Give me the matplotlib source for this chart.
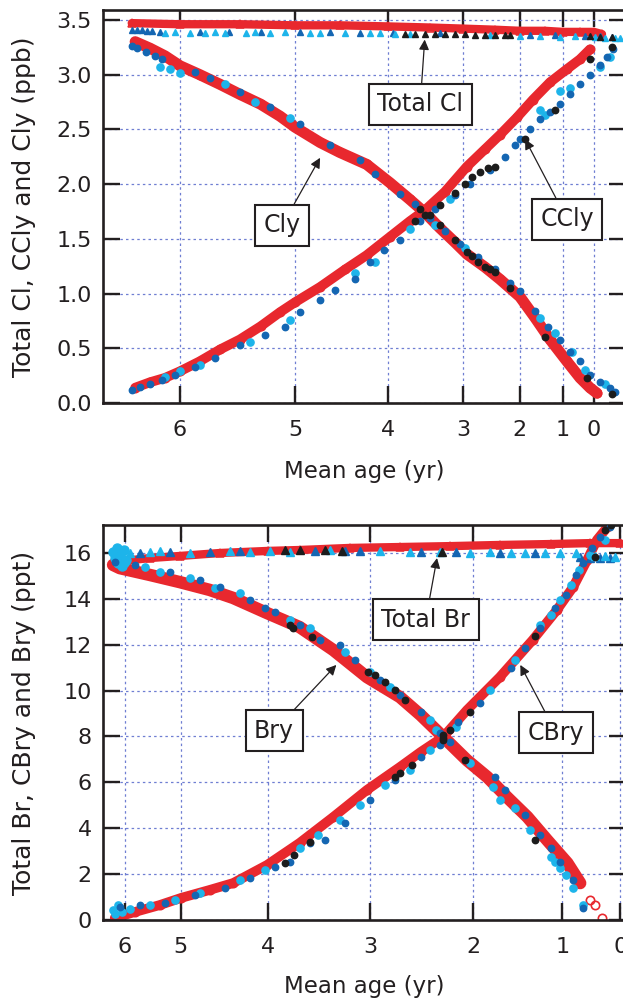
import numpy as np
import matplotlib
matplotlib.use("Agg")
import matplotlib.pyplot as plt

plt.rcParams['font.family'] = ['DejaVu Sans']

RED = '#e8282e'
DBLUE = '#1466b2'
LBLUE = '#1db4ea'
BLACK = '#1c1c1c'
INK = '#231f20'
GRID = '#6f7ed2'

# ---------------- top panel data (mean age in yr, mixing ratio in ppb) ----------------
cl_total_red_age = [6.42, 6.0, 5.48, 5.0, 4.52, 4.0, 3.44, 3.0, 2.44, 2.0, 1.42, 1.0, 0.45, 0.0, -0.27]
cl_total_red = [3.47, 3.46, 3.46, 3.45, 3.45, 3.44, 3.43, 3.42, 3.41, 3.40, 3.40, 3.39, 3.39, 3.39, 3.37]

cl_total_db_age = [6.42, 6.37, 6.33, 6.29, 6.24, 6.17, 5.83, 5.57, 5.30, 4.95, 4.62, 4.30, 3.93, 3.31, 1.77, 1.19, 0.29, -0.2, -0.6]
cl_total_db = [3.41, 3.41, 3.41, 3.40, 3.40, 3.39, 3.39, 3.39, 3.39, 3.39, 3.39, 3.38, 3.38, 3.38, 3.36, 3.36, 3.35, 3.35, 3.34]

cl_total_lb_age = [6.13, 6.04, 5.91, 5.78, 5.70, 5.61, 5.43, 5.35, 5.22, 5.09, 4.84, 4.73, 4.46, 4.19, 4.09, 3.91, 3.71,
                   2.53, 2.0, 1.53, 1.07, 0.61, -0.03, -0.37, -0.7, -0.87]
cl_total_lb = [3.38, 3.39, 3.38, 3.38, 3.39, 3.38, 3.38, 3.39, 3.38, 3.39, 3.38, 3.38, 3.38, 3.38, 3.38, 3.37, 3.37,
               3.36, 3.35, 3.35, 3.34, 3.35, 3.34, 3.33, 3.33, 3.33]

cl_total_bk_age = [3.77, 3.64, 3.51, 3.37, 3.24, 3.11, 2.96, 2.79, 2.61, 2.44, 2.26, 2.18, 0.13, -0.2, -0.6]
cl_total_bk = [3.37, 3.37, 3.37, 3.37, 3.37, 3.37, 3.37, 3.36, 3.36, 3.36, 3.36, 3.36, 3.35, 3.34, 3.34]

cly_red_age = [6.39, 6.26, 6.13, 6.0, 5.83, 5.65, 5.48, 5.30, 5.13, 5.0, 4.73, 4.52, 4.23, 3.97, 3.71, 3.51, 3.31,
               3.11, 2.93, 2.61, 2.35, 2.0, 1.65, 1.30, 0.87, 0.45, 0.13, -0.1]
cly_red = [3.30, 3.24, 3.17, 3.08, 3.00, 2.91, 2.82, 2.73, 2.62, 2.52, 2.38, 2.29, 2.18, 2.01, 1.86, 1.74, 1.60,
           1.47, 1.36, 1.24, 1.13, 0.97, 0.78, 0.58, 0.38, 0.23, 0.14, 0.09]

cly_db_age = [6.42, 6.37, 6.30, 6.22, 6.16, 5.87, 5.74, 5.48, 5.22, 4.95, 4.62, 4.30, 4.14, 3.84, 3.64, 3.44, 3.24,
              3.04, 2.74, 2.44, 2.18, 2.0, 1.65, 1.35, 1.07, 0.77, 0.45, 0.13, -0.2, -0.53, -0.7]
cly_db = [3.26, 3.24, 3.21, 3.17, 3.14, 3.02, 2.97, 2.84, 2.70, 2.55, 2.36, 2.22, 2.09, 1.91, 1.82, 1.69, 1.57,
          1.45, 1.33, 1.22, 1.10, 1.02, 0.84, 0.69, 0.58, 0.47, 0.38, 0.26, 0.19, 0.14, 0.10]

cly_lb_age = [6.17, 6.09, 6.0, 5.61, 5.35, 5.04, 3.37, 2.96, 1.53, 1.19, 0.71, 0.29, -0.37]
cly_lb = [3.07, 3.05, 3.01, 2.91, 2.75, 2.60, 1.63, 1.42, 0.78, 0.64, 0.47, 0.30, 0.17]

cly_bk_age = [3.57, 3.44, 3.31, 3.11, 2.93, 2.84, 2.74, 2.61, 2.53, 2.44, 2.18, 1.42, 0.23, -0.6]
cly_bk = [1.77, 1.72, 1.63, 1.49, 1.38, 1.34, 1.29, 1.24, 1.22, 1.20, 1.05, 0.60, 0.23, 0.08]

ccly_red_age = [6.39, 6.26, 6.13, 6.0, 5.83, 5.65, 5.48, 5.30, 5.13, 5.0, 4.73, 4.46, 4.23, 3.97, 3.71, 3.51, 3.24,
                2.93, 2.61, 2.35, 2.05, 1.70, 1.30, 0.87, 0.45, 0.13]
ccly_red = [0.14, 0.19, 0.23, 0.29, 0.38, 0.49, 0.58, 0.70, 0.83, 0.92, 1.06, 1.22, 1.35, 1.52, 1.66, 1.76, 1.93,
            2.16, 2.32, 2.45, 2.61, 2.77, 2.93, 3.05, 3.14, 3.23]

ccly_db_age = [6.42, 6.35, 6.26, 6.16, 6.04, 5.87, 5.70, 5.48, 5.26, 5.09, 4.95, 4.73, 4.57, 4.35, 4.19, 4.04, 3.84,
               3.57, 3.37, 3.11, 2.88, 2.53, 2.26, 2.09, 2.0, 1.77, 1.53, 1.30, 1.07, 0.77, 0.45, 0.13, -0.2, -0.43, -0.63]
ccly_db = [0.12, 0.15, 0.17, 0.21, 0.26, 0.33, 0.41, 0.53, 0.62, 0.69, 0.83, 0.94, 1.03, 1.13, 1.29, 1.40, 1.49,
           1.66, 1.77, 1.90, 2.00, 2.13, 2.25, 2.36, 2.41, 2.50, 2.59, 2.66, 2.73, 2.82, 2.91, 3.00, 3.09, 3.16, 3.23]

ccly_lb_age = [6.13, 6.0, 5.83, 5.39, 5.04, 4.35, 4.14, 3.71, 3.17, 1.53, 1.42, 1.07, 0.77, -0.2, -0.53]
ccly_lb = [0.24, 0.29, 0.35, 0.56, 0.76, 1.19, 1.29, 1.59, 1.86, 2.68, 2.63, 2.85, 2.88, 3.07, 3.16]

ccly_bk_age = [3.64, 3.51, 3.31, 3.11, 2.96, 2.84, 2.70, 2.56, 2.44, 1.88, 1.19, 0.13, -0.6]
ccly_bk = [1.66, 1.72, 1.81, 1.92, 2.00, 2.06, 2.11, 2.15, 2.16, 2.41, 2.68, 3.14, 3.25]

# ---------------- bottom panel data (mean age in yr, mixing ratio in ppt) ----------------
br_total_red_age = [6.18, 5.55, 5.02, 4.55, 4.0, 3.69, 3.20, 2.71, 2.22, 1.70, 1.13, 0.52, 0.0]
br_total_red = [15.61, 15.78, 15.87, 16.0, 16.09, 16.13, 16.22, 16.26, 16.30, 16.35, 16.39, 16.43, 16.43]

br_total_lb_age = [5.91, 5.55, 5.38, 4.90, 4.44, 4.21, 3.98, 3.78, 3.39, 2.90, 2.61, 2.32, 2.03, 1.81, 1.58, 1.42,
                   1.19, 1.02, 0.76, 0.43, 0.26, 0.09]
br_total_lb = [16.0, 16.04, 16.09, 16.0, 16.09, 16.04, 16.09, 16.04, 16.13, 16.09, 16.04, 16.04, 16.0, 16.04, 16.0,
               16.0, 16.0, 16.0, 16.0, 15.87, 15.87, 15.82]

br_total_db_age = [5.73, 5.20, 4.67, 4.32, 3.54, 3.25, 3.10, 2.51, 2.17, 1.70, 1.30, 0.69, 0.52, 0.34, 0.17]
br_total_db = [16.0, 16.04, 16.04, 16.09, 16.09, 16.09, 16.09, 16.04, 16.04, 16.0, 16.0, 15.82, 15.78, 15.78, 15.78]

br_total_bk_age = [3.83, 3.69, 3.44, 3.27, 2.30]
br_total_bk = [16.13, 16.13, 16.13, 16.09, 16.04]

br_start_lb_age = [6.21, 6.18, 6.14, 6.13, 6.09, 6.05, 6.02, 5.98]
br_start_lb = [16.04, 15.78, 16.22, 15.56, 15.91, 15.43, 16.13, 15.69]

bry_red_age = [6.21, 6.09, 5.55, 5.02, 4.67, 4.40, 4.01, 3.69, 3.36, 3.03, 2.71, 2.51, 2.29, 2.06, 1.84, 1.62,
               1.39, 1.17, 0.91, 0.69]
bry_red = [15.48, 15.34, 15.04, 14.73, 14.39, 14.04, 13.38, 12.77, 11.77, 10.59, 9.72, 8.94, 7.98, 6.97, 6.23, 5.36,
           4.49, 3.49, 2.48, 1.61]
bry_red_tail_age = [0.52, 0.43, 0.31]
bry_red_tail = [0.87, 0.65, 0.09]

bry_db_age = [6.18, 5.82, 5.20, 4.78, 4.55, 4.21, 4.03, 3.93, 3.69, 3.49, 3.29, 3.15, 2.90, 2.71, 2.51, 2.32, 2.22,
              1.75, 1.64, 1.42, 1.25, 1.13, 1.02, 0.81, 0.64]
bry_db = [15.61, 15.48, 15.17, 14.82, 14.52, 13.95, 13.6, 13.43, 12.86, 12.21, 11.99, 11.33, 10.46, 9.81, 9.07, 8.15,
          7.76, 6.23, 5.67, 4.58, 3.71, 3.14, 2.53, 1.74, 0.52]

bry_lb_age = [6.0, 5.64, 5.38, 4.90, 4.61, 4.32, 3.78, 3.59, 3.25, 3.0, 2.81, 2.42, 2.36, 2.03, 1.78, 1.70, 1.53,
              1.36, 1.13, 1.08, 1.02, 0.94, 0.82, 0.64]
bry_lb = [15.56, 15.39, 15.17, 14.91, 14.47, 14.25, 13.08, 12.73, 11.68, 10.81, 10.16, 8.72, 8.28, 6.84, 5.80, 5.23,
          4.88, 3.92, 2.75, 2.53, 2.27, 1.96, 1.39, 0.65]

bry_bk_age = [3.78, 3.75, 3.57, 3.02, 2.95, 2.85, 2.76, 2.66, 2.29, 2.29, 2.08, 1.30]
bry_bk = [12.86, 12.73, 12.34, 10.81, 10.68, 10.37, 10.03, 9.59, 8.06, 7.85, 6.97, 3.49]

cbry_red_age = [6.18, 5.82, 5.38, 5.0, 4.67, 4.40, 4.01, 3.69, 3.36, 3.03, 2.71, 2.51, 2.29, 2.06, 1.70, 1.33, 1.06,
                0.81, 0.57, 0.40, 0.22]
cbry_red = [0.09, 0.35, 0.65, 0.96, 1.31, 1.61, 2.40, 3.36, 4.49, 5.67, 6.67, 7.32, 7.98, 9.15, 10.59, 12.21, 13.51,
            14.52, 15.69, 16.57, 17.13]

cbry_db_age = [6.09, 5.73, 5.29, 4.84, 4.49, 4.21, 3.93, 3.78, 3.59, 3.44, 3.25, 3.0, 2.76, 2.51, 2.32, 2.15, 1.92,
               1.58, 1.42, 1.25, 1.08, 0.94, 0.76, 0.64, 0.48, 0.34, 0.17]
cbry_db = [0.57, 0.65, 0.74, 1.09, 1.39, 1.83, 2.31, 2.53, 3.36, 3.49, 4.23, 5.23, 6.10, 7.11, 7.63, 8.63, 9.46,
           10.99, 11.86, 12.73, 13.6, 14.17, 15.04, 15.56, 16.22, 16.70, 17.13]

cbry_lb_age = [6.21, 6.18, 6.13, 6.05, 5.91, 5.55, 5.11, 4.78, 4.32, 4.03, 3.69, 3.51, 3.29, 3.10, 2.85, 2.61, 2.42,
               2.17, 1.81, 1.53, 1.25, 1.13, 1.02, 0.84, 0.71, 0.52, 0.26]
cbry_lb = [0.44, 0.26, 0.65, 0.35, 0.48, 0.65, 0.87, 1.18, 1.74, 2.18, 3.14, 3.71, 4.36, 5.01, 5.88, 6.54, 7.41,
           8.41, 10.03, 11.33, 12.86, 13.30, 13.95, 14.6, 15.26, 15.91, 16.57]

cbry_bk_age = [3.83, 3.74, 3.59, 2.76, 2.71, 2.59, 2.29, 2.22, 2.03, 1.30, 0.43, 0.26, 0.16]
cbry_bk = [2.48, 2.83, 3.40, 6.23, 6.41, 6.76, 7.93, 8.28, 9.07, 12.38, 15.82, 17.0, 17.22]

age_ticks = [0, 1, 2, 3, 4, 5, 6]
age_labels = ['0', '1', '2', '3', '4', '5', '6']
cl_ticks = [0.0, 0.5, 1.0, 1.5, 2.0, 2.5, 3.0, 3.5]
cl_labels = ['0.0', '0.5', '1.0', '1.5', '2.0', '2.5', '3.0', '3.5']
br_ticks = [0, 2, 4, 6, 8, 10, 12, 14, 16]
br_labels = ['0', '2', '4', '6', '8', '10', '12', '14', '16']

# non-linear mean-age axes (tick spacing follows the original figure)
top_knots_age = np.array([-2, -1, 0, 1, 2, 3, 4, 5, 6, 7], float)
top_knots_pos = np.array([654, 624, 594, 563, 520, 463, 388, 295, 180, 65], float)
bot_knots_age = np.array([-1, 0, 1, 2, 3, 4, 5, 6, 7], float)
bot_knots_pos = np.array([678, 620, 562, 473, 370, 268, 181, 125, 69], float)


def make_scale(ka, kp):
    # increasing in age; axis is then inverted through the limits
    def fwd(a):
        return -np.interp(a, ka, kp)

    def inv(u):
        return np.interp(-np.asarray(u, float), kp[::-1], ka[::-1])
    return fwd, inv


fig = plt.figure(figsize=(6.23, 10.01), dpi=100)
W, H = 623.0, 1001.0
ax1 = fig.add_axes([103 / W, 1 - 403 / H, 523 / W, 393 / H])
ax2 = fig.add_axes([103 / W, 1 - 920 / H, 523 / W, 395 / H])


def style(ax, ka, kp, xlim, ylim, yt, ytl, ylabel, ylab_x, xlab_y):
    ax.set_xscale('function', functions=make_scale(ka, kp))
    ax.set_xlim(*xlim)
    ax.set_ylim(*ylim)
    ax.set_xticks(age_ticks)
    ax.set_xticklabels(age_labels)
    ax.set_yticks(yt)
    ax.set_yticklabels(ytl)
    ax.minorticks_off()
    ax.tick_params(axis='both', direction='in', length=12, width=1.7, color=INK,
                   labelcolor=INK, labelsize=16, top=True, right=True)
    ax.tick_params(axis='x', pad=12)
    ax.tick_params(axis='y', pad=8)
    for s in ax.spines.values():
        s.set_linewidth(1.9)
        s.set_color(INK)
    ax.grid(True, color=GRID, linestyle=(0, (2, 2.5)), linewidth=0.9)
    ax.set_axisbelow(True)
    ax.set_xlabel('Mean age (yr)', fontsize=16.5, color=INK)
    ax.set_ylabel(ylabel, fontsize=18, color=INK)
    ax.yaxis.set_label_coords(ylab_x, 0.5)
    ax.xaxis.set_label_coords(0.5, xlab_y)


def band(ax, x, y, lw=7, ms=6):
    ax.plot(x, y, color=RED, lw=lw, solid_capstyle='round', solid_joinstyle='round', zorder=2)
    ax.plot(x, y, 'o', ls='none', mfc='none', mec=RED, ms=ms, mew=1.2, zorder=2.1)


def tri_band(ax, x, y, lw=6):
    ax.plot(x, y, color=RED, lw=lw, solid_capstyle='round', zorder=2)
    ax.plot(x, y, '^', ls='none', mfc='none', mec=RED, ms=6, mew=1.1, zorder=2.1)


def dots(ax, x, y, color, marker='o', ms=4.6, z=3):
    ax.plot(x, y, marker, ls='none', color=color, mec=color, ms=ms, zorder=z)


box = dict(boxstyle='square,pad=0.36', fc='white', ec=INK, lw=1.5)
arrow = dict(arrowstyle='-|>', color=INK, lw=0.9, mutation_scale=15, shrinkA=0, shrinkB=0)

# ---------------- top panel ----------------
style(ax1, top_knots_age, top_knots_pos, (6.67, -1.07), (0.0, 3.59), cl_ticks, cl_labels,
      'Total Cl, CCly and Cly (ppb)', -0.128, -0.145)
tri_band(ax1, cl_total_red_age, cl_total_red, lw=6)
band(ax1, cly_red_age, cly_red, lw=8)
band(ax1, ccly_red_age, ccly_red, lw=7)
dots(ax1, cl_total_db_age, cl_total_db, DBLUE, '^', 5)
dots(ax1, cl_total_lb_age, cl_total_lb, LBLUE, '^', 5)
dots(ax1, cl_total_bk_age, cl_total_bk, BLACK, '^', 5)
dots(ax1, cly_lb_age, cly_lb, LBLUE, 'o', 5.2)
dots(ax1, ccly_lb_age, ccly_lb, LBLUE, 'o', 5.2)
dots(ax1, cly_db_age, cly_db, DBLUE, 'o', 4.6)
dots(ax1, ccly_db_age, ccly_db, DBLUE, 'o', 4.6)
dots(ax1, cly_bk_age, cly_bk, BLACK, 'o', 4.6, 3.5)
dots(ax1, ccly_bk_age, ccly_bk, BLACK, 'o', 4.6, 3.5)

ax1.annotate('Total Cl', xy=(3.51, 3.32), xytext=(3.57, 2.73), ha='center', va='center',
             fontsize=17, color=INK, bbox=box, arrowprops=arrow, zorder=5)
ax1.annotate('Cly', xy=(4.73, 2.24), xytext=(5.11, 1.625), ha='center', va='center',
             fontsize=17, color=INK, bbox=box, arrowprops=arrow, zorder=5)
ax1.annotate('CCly', xy=(1.88, 2.41), xytext=(0.87, 1.68), ha='center', va='center',
             fontsize=17, color=INK, bbox=box, arrowprops=arrow, zorder=5)

# ---------------- bottom panel ----------------
style(ax2, bot_knots_age, bot_knots_pos, (6.39, -0.10), (0.0, 17.22), br_ticks, br_labels,
      'Total Br, CBry and Bry (ppt)', -0.128, -0.14)
tri_band(ax2, br_total_red_age, br_total_red, lw=6)
band(ax2, bry_red_age, bry_red, lw=9)
band(ax2, cbry_red_age, cbry_red, lw=7)
ax2.plot(bry_red_tail_age, bry_red_tail, 'o', ls='none', mfc='none', mec=RED, ms=6, mew=1.2, zorder=2.1)
dots(ax2, br_total_db_age, br_total_db, DBLUE, '^', 5.5)
dots(ax2, br_total_lb_age, br_total_lb, LBLUE, '^', 6)
dots(ax2, br_total_bk_age, br_total_bk, BLACK, '^', 5.5)
dots(ax2, br_start_lb_age, br_start_lb, LBLUE, 'o', 6.5)
dots(ax2, bry_lb_age, bry_lb, LBLUE, 'o', 5.2)
dots(ax2, cbry_lb_age, cbry_lb, LBLUE, 'o', 5.2)
dots(ax2, bry_db_age, bry_db, DBLUE, 'o', 4.6)
dots(ax2, cbry_db_age, cbry_db, DBLUE, 'o', 4.6)
dots(ax2, bry_bk_age, bry_bk, BLACK, 'o', 4.6, 3.5)
dots(ax2, cbry_bk_age, cbry_bk, BLACK, 'o', 4.6, 3.5)

ax2.annotate('Total Br', xy=(2.35, 15.78), xytext=(2.46, 13.08), ha='center', va='center',
             fontsize=17, color=INK, bbox=box, arrowprops=arrow, zorder=5)
ax2.annotate('Bry', xy=(3.33, 11.12), xytext=(3.94, 8.24), ha='center', va='center',
             fontsize=17, color=INK, bbox=box, arrowprops=arrow, zorder=5)
ax2.annotate('CBry', xy=(1.47, 11.12), xytext=(1.07, 8.17), ha='center', va='center',
             fontsize=17, color=INK, bbox=box, arrowprops=arrow, zorder=5)

fig.savefig('out.png', dpi=100)
